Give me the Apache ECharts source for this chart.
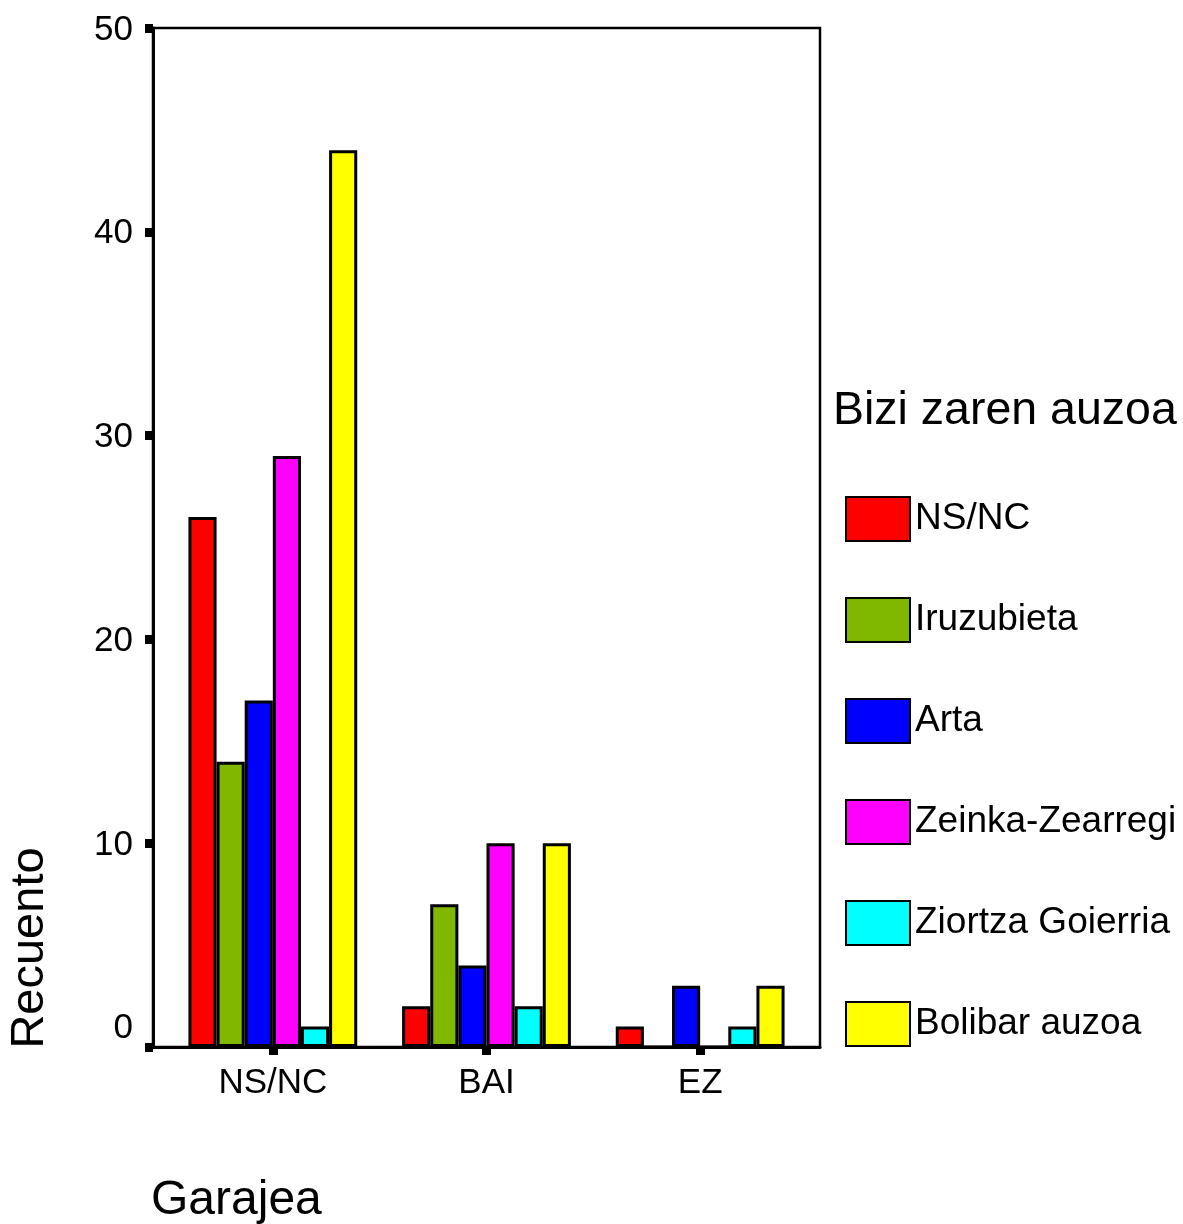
<!DOCTYPE html>
<html>
<head>
<meta charset="utf-8">
<script src="https://cdn.jsdelivr.net/npm/echarts@6/dist/echarts.min.js"></script>
<style>
  html, body { margin: 0; padding: 0; background: #fff; }
  #chart { width: 1183px; height: 1224px; }
</style>
</head>
<body>
<div id="chart"></div>
<script>
// Garage answers (Garajea) by neighbourhood (Bizi zaren auzoa)
var categories = ['NS/NC', 'BAI', 'EZ'];
var seriesNames = ['NS/NC', 'Iruzubieta', 'Arta', 'Zeinka-Zearregi', 'Ziortza Goierria', 'Bolibar auzoa'];
var nsnc       = [26, 2, 1];
var iruzubieta = [14, 7, 0];
var arta       = [17, 4, 3];
var zeinka     = [29, 10, 0];
var ziortza    = [1, 2, 1];
var bolibar    = [44, 10, 3];
var yTicks = [0, 10, 20, 30, 40, 50];

var seriesData = [nsnc, iruzubieta, arta, zeinka, ziortza, bolibar];
var colors = ['#ff0000', '#80b800', '#0000ff', '#ff00ff', '#00ffff', '#ffff00'];
var FONT = 'Liberation Sans, Arial, sans-serif';

var chart = echarts.init(document.getElementById('chart'));

var series = seriesNames.map(function (name, i) {
  return {
    name: name,
    type: 'bar',
    xAxisIndex: 1,
    yAxisIndex: 1,
    data: seriesData[i],
    barGap: '0%',
    barCategoryGap: '21%',
    itemStyle: { color: colors[i], borderColor: '#000', borderWidth: 3 },
    emphasis: { disabled: true }
  };
});

chart.setOption({
  animation: false,
  backgroundColor: '#fff',
  textStyle: { fontFamily: FONT },
  title: [
    {
      text: 'Bizi zaren auzoa',
      left: 828, top: 383,
      textStyle: { fontSize: 46.5, fontWeight: 'normal', color: '#000', fontFamily: FONT }
    },
    {
      text: 'Garajea',
      left: 146, top: 1172,
      textStyle: { fontSize: 48, fontWeight: 'normal', color: '#000', fontFamily: FONT }
    }
  ],
  legend: {
    orient: 'vertical',
    left: 845, top: 496,
    padding: 0,
    itemWidth: 64, itemHeight: 44, itemGap: 55,
    icon: 'rect',
    data: seriesNames,
    textStyle: { fontSize: 37, color: '#000', fontFamily: FONT },
    selectedMode: false
  },
  graphic: [
    {
      type: 'text',
      x: 30, y: 948,
      rotation: Math.PI / 2,
      style: {
        text: 'Recuento', fontSize: 47, fontFamily: FONT, fill: '#000',
        textAlign: 'center', textVerticalAlign: 'middle'
      }
    }
  ],
  grid: [
    // frame + value axis
    { left: 153, right: 363, top: 28, bottom: 177, show: true, borderColor: '#000', borderWidth: 2.5, backgroundColor: 'transparent' },
    // bar area (inset inside the frame)
    { left: 166, right: 376, top: 28, bottom: 177 }
  ],
  xAxis: [
    {
      gridIndex: 0, type: 'value', min: 0, max: 1,
      axisLine: { show: true, lineStyle: { color: '#000', width: 3 } },
      axisTick: { show: false }, axisLabel: { show: false }, splitLine: { show: false }
    },
    {
      gridIndex: 1, type: 'category', data: categories,
      axisLine: { show: false },
      axisTick: { show: true, alignWithLabel: true, length: 8, lineStyle: { color: '#000', width: 9 } },
      axisLabel: { fontSize: 35, color: '#000', margin: 19, fontFamily: FONT },
      splitLine: { show: false }
    }
  ],
  yAxis: [
    {
      gridIndex: 0, type: 'value', min: 0, max: 50, interval: 10,
      axisLine: { show: true, lineStyle: { color: '#000', width: 3 } },
      axisTick: { show: true, length: 8, lineStyle: { color: '#000', width: 9 } },
      axisLabel: {
        fontSize: 35, color: '#000', margin: 20, fontFamily: FONT,
        formatter: function (v) { return v === 0 ? '{z|0}' : '{n|' + v + '}'; },
        rich: {
          z: { fontSize: 35, color: '#000', fontFamily: FONT, padding: [0, 0, 38, 0] },
          n: { fontSize: 35, color: '#000', fontFamily: FONT, padding: [4, 0, 0, 0] }
        }
      },
      splitLine: { show: false }
    },
    {
      gridIndex: 1, type: 'value', min: 0, max: 50, interval: 10, show: false,
      splitLine: { show: false }
    }
  ],
  series: series
});
</script>
</body>
</html>
